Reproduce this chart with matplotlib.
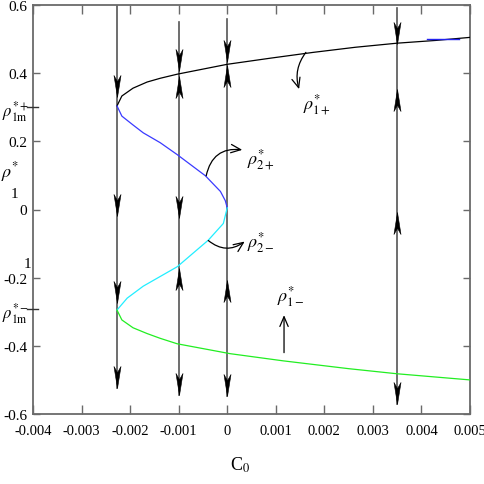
import matplotlib
matplotlib.use("Agg")
import matplotlib.pyplot as plt
from matplotlib.path import Path
import matplotlib.transforms as mtransforms

plt.rcParams['font.family'] = ['Liberation Serif', 'DejaVu Serif']
plt.rcParams['mathtext.fontset'] = 'stix'
plt.rcParams['axes.unicode_minus'] = False

# ---- data ----
c0_black = [-0.00227, -0.00217, -0.00194, -0.00165, -0.00138, -0.00103, 0.0,
            0.00089, 0.00177, 0.00264, 0.00350, 0.00429, 0.00500]
rho_black = [0.304, 0.333, 0.356, 0.374, 0.385, 0.397, 0.426,
             0.444, 0.461, 0.476, 0.488, 0.496, 0.505]

c0_blue = [-0.00227, -0.00217, -0.00194, -0.00173, -0.00138, -0.00103, -0.00045,
           -0.00014, -0.00004, 0.0]
rho_blue = [0.304, 0.274, 0.248, 0.225, 0.196, 0.161, 0.099,
            0.053, 0.026, 0.005]

c0_cyan = [0.0, -0.00008, -0.00039, -0.00103, -0.00173, -0.00206, -0.00227]
rho_cyan = [0.005, -0.041, -0.090, -0.168, -0.225, -0.260, -0.295]

c0_green = [-0.00227, -0.00217, -0.00194, -0.00165, -0.00138, -0.00103, 0.00006,
            0.00115, 0.00250, 0.00350, 0.00500]
rho_green = [-0.295, -0.324, -0.347, -0.364, -0.378, -0.394, -0.423,
             -0.444, -0.467, -0.482, -0.500]

c0_dash = [0.00412, 0.00478]
rho_dash = [0.500, 0.500]

line_c0 = [-0.00227, -0.0010, 0.0, 0.0035]
line_top = [0.600, 0.549, 0.558, 0.590]
line_bottom = [-0.523, -0.543, -0.546, -0.572]

arrow_c0 = [-0.00227, -0.00227, -0.00227, -0.00227,
            -0.0010, -0.0010, -0.0010, -0.0010, -0.0010,
            0.0, 0.0, 0.0, 0.0,
            0.0035, 0.0035, 0.0035, 0.0035]
arrow_rho = [0.330, -0.018, -0.274, -0.523,
             0.405, 0.391, -0.026, -0.172, -0.543,
             0.433, 0.424, -0.207, -0.546,
             0.485, 0.353, -0.006, -0.572]
arrow_dir = ['down', 'down', 'down', 'down',
             'down', 'up', 'down', 'up', 'down',
             'down', 'up', 'up', 'down',
             'down', 'up', 'up', 'down']

xticks = [-0.004, -0.003, -0.002, -0.001, 0.0, 0.001, 0.002, 0.003, 0.004, 0.005]
xticklabels = ['-0.004', '-0.003', '-0.002', '-0.001', '0', '0.001', '0.002', '0.003', '0.004', '0.005']
yticks = [0.6, 0.4, 0.2, 0.0, -0.2, -0.4, -0.6]
yticklabels = ['0.6', '0.4', '0.2', '0', '-0.2', '-0.4', '-0.6']
rho_m_ticks = [0.300, -0.292]
rho_m_labels = [r'$\rho^{*+}_{\mathrm{1m}}$', r'$\rho^{*-}_{\mathrm{1m}}$']

# ---- figure ----
fig = plt.figure(figsize=(4.85, 4.85), dpi=100)
ax = fig.add_axes([33/485, 1-415/485, (470-33)/485, (415-6)/485])
ax.set_xlim(-0.004, 0.005)
ax.set_ylim(-0.6, 0.6)

gray = '#6a6a6a'
for s in ax.spines.values():
    s.set_color(gray)
    s.set_linewidth(1.3)

# vertical flow lines
for x, t, b in zip(line_c0, line_top, line_bottom):
    ax.plot([x, x], [b, t], color='#555555', lw=1.2, zorder=2)

# branches
ax.plot(c0_black, rho_black, color='black', lw=0.9, zorder=3)
ax.plot(c0_blue, rho_blue, color='#3a3aff', lw=0.9, zorder=3)
ax.plot(c0_cyan, rho_cyan, color='#22eeff', lw=0.9, zorder=3)
ax.plot(c0_green, rho_green, color='#22ee22', lw=0.9, zorder=3)
ax.plot(c0_dash, rho_dash, color='#2222ee', lw=1.0, zorder=3)

# arrow heads (notched, filled)
down_path = Path([(0, 0), (0.16, 1.0), (0, 0.72), (-0.16, 1.0), (0, 0)],
                 [Path.MOVETO, Path.LINETO, Path.LINETO, Path.LINETO, Path.CLOSEPOLY])
up_path = Path([(0, 0), (0.16, -1.0), (0, -0.72), (-0.16, -1.0), (0, 0)],
               [Path.MOVETO, Path.LINETO, Path.LINETO, Path.LINETO, Path.CLOSEPOLY])
for x, y, d in zip(arrow_c0, arrow_rho, arrow_dir):
    ax.plot([x], [y], ls='none', marker=down_path if d == 'down' else up_path,
            ms=31.7, mfc='black', mec='black', mew=0.4, zorder=4, clip_on=False)

# annotations
akw = dict(arrowstyle='->, head_length=0.7, head_width=0.3', color='black', lw=0.9,
           shrinkA=0, shrinkB=0)
ax.annotate('', xy=(0.00031, 0.175), xytext=(-0.000433, 0.099),
            arrowprops=dict(connectionstyle='arc3,rad=-0.45', **akw))
ax.annotate('', xy=(0.00036, -0.094), xytext=(-0.00039, -0.091),
            arrowprops=dict(connectionstyle='arc3,rad=0.38', **akw))
ax.annotate('', xy=(0.00148, 0.353), xytext=(0.00162, 0.461),
            arrowprops=dict(connectionstyle='arc3,rad=0.25', **akw))
ax.annotate('', xy=(0.00117, -0.310), xytext=(0.00117, -0.420),
            arrowprops=dict(connectionstyle='arc3,rad=0', **akw))

tfs = 13
ax.text(0.00040, 0.150, r'$\rho^{*}_{2+}$', fontsize=tfs, ha='left', va='center')
ax.text(0.00040, -0.095, r'$\rho^{*}_{2-}$', fontsize=tfs, ha='left', va='center')
ax.text(0.00157, 0.310, r'$\rho^{*}_{1+}$', fontsize=tfs, ha='left', va='center')
ax.text(0.00102, -0.252, r'$\rho^{*}_{1-}$', fontsize=tfs, ha='left', va='center')

# ticks
ax.set_xticks(xticks)
ax.set_xticklabels(xticklabels)
ax.set_yticks(yticks)
ax.set_yticklabels(yticklabels)
ax.tick_params(axis='x', direction='in', length=6.5, width=1.0, color=gray,
               top=True, labelsize=10.5, pad=7)
ax.tick_params(axis='y', direction='in', length=5, width=1.0, color=gray,
               right=True, labelsize=11, pad=4)

# special rho_1m ticks on the y axis (dash crossing the axis, label at the far left)
blend = mtransforms.blended_transform_factory(ax.transAxes, ax.transData)
for yv, lab in zip(rho_m_ticks, rho_m_labels):
    ax.plot([-0.013, 0.012], [yv, yv], color='#333333', lw=1.0, transform=blend,
            clip_on=False, zorder=5)
    ax.text(-0.071, yv - 0.010, lab, fontsize=12, ha='left', va='center',
            transform=blend)

# axis labels
fig.text(1/485, 1-172/485, r'$\rho^{*}$', fontsize=13, ha='left', va='center')
fig.text(11/485, 1-194/485, '1', fontsize=11, ha='left', va='center')
fig.text(31/485, 1-265/485, '1', fontsize=11, ha='right', va='center')
fig.text(240/485, 1-465/485, r'C$_0$', fontsize=13, ha='center', va='center')

fig.savefig('out.png', dpi=100)
